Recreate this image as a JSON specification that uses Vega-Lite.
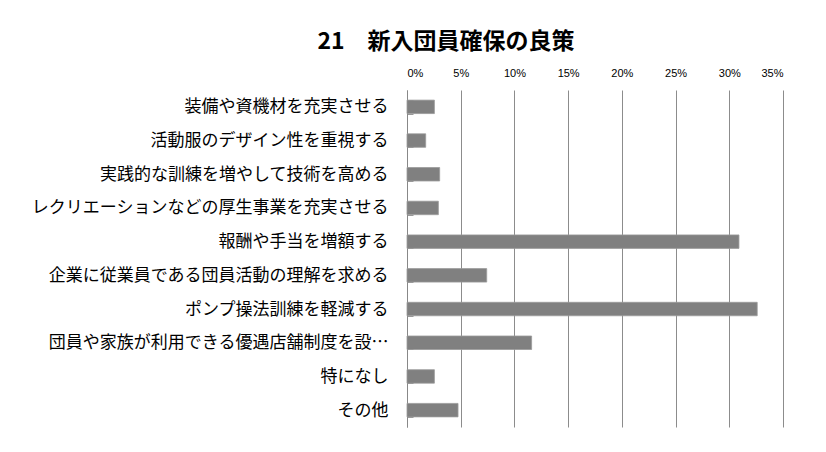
{
  "$schema": "https://vega.github.io/schema/vega-lite/v6.json",
  "width": 376,
  "height": 337,
  "autosize": {"type": "none"},
  "padding": {"left": 407, "top": 90, "right": 43, "bottom": 25},
  "background": "white",
  "title": {
    "text": "21　新入団員確保の良策",
    "font": "Noto Sans CJK JP",
    "fontSize": 23,
    "fontWeight": "bold",
    "color": "#000000",
    "anchor": "middle",
    "frame": "group",
    "dx": -149,
    "offset": 13
  },
  "data": {
    "values": [
      {"item": "装備や資機材を充実させる", "ratio": 0.0255},
      {"item": "活動服のデザイン性を重視する", "ratio": 0.0174},
      {"item": "実践的な訓練を増やして技術を高める", "ratio": 0.0304},
      {"item": "レクリエーションなどの厚生事業を充実させる", "ratio": 0.0292},
      {"item": "報酬や手当を増額する", "ratio": 0.309},
      {"item": "企業に従業員である団員活動の理解を求める", "ratio": 0.0742},
      {"item": "ポンプ操法訓練を軽減する", "ratio": 0.326},
      {"item": "団員や家族が利用できる優遇店舗制度を設…", "ratio": 0.116},
      {"item": "特になし", "ratio": 0.0255},
      {"item": "その他", "ratio": 0.0475}
    ]
  },
  "mark": {"type": "bar", "color": "#808080", "stroke": "#9a9a9a", "strokeWidth": 0.8},
  "encoding": {
    "y": {
      "field": "item",
      "type": "nominal",
      "sort": null,
      "scale": {"paddingInner": 0.6, "paddingOuter": 0.3},
      "axis": {
        "title": null,
        "domain": true,
        "domainColor": "#888888",
        "ticks": true,
        "tickBand": "extent",
        "tickSize": -6,
        "tickColor": "#999999",
        "labelPadding": 25,
        "labelFont": "Noto Sans CJK JP",
        "labelFontSize": 17,
        "labelColor": "#000000",
        "labelLimit": 500,
        "grid": false
      }
    },
    "x": {
      "field": "ratio",
      "type": "quantitative",
      "scale": {"domain": [0, 0.35], "nice": false},
      "axis": {
        "orient": "top",
        "title": null,
        "values": [0, 0.05, 0.1, 0.15, 0.2, 0.25, 0.3, 0.35],
        "format": ".0%",
        "domain": false,
        "ticks": false,
        "grid": true,
        "gridColor": "#8c8c8c",
        "gridOpacity": 1,
        "labelFont": "Liberation Sans",
        "labelFontSize": 11,
        "labelColor": "#000000",
        "labelPadding": 12
      }
    }
  },
  "config": {"view": {"stroke": null}}
}
